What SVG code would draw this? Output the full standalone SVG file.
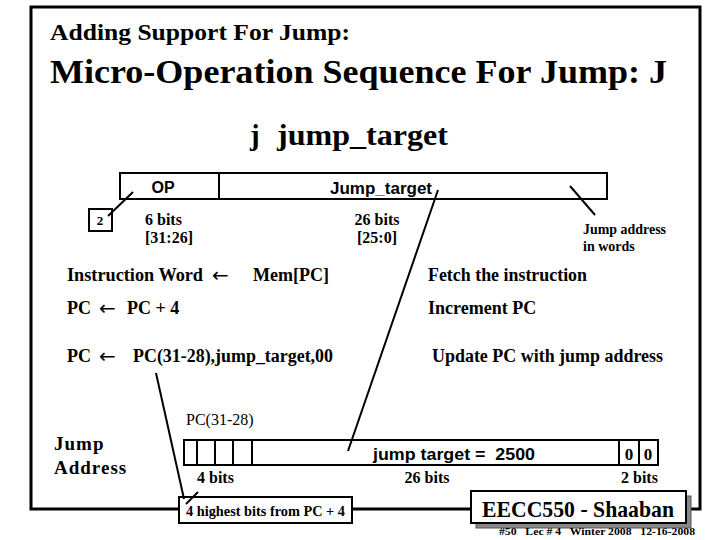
<svg xmlns="http://www.w3.org/2000/svg" width="720" height="540" viewBox="0 0 720 540">
<style>
.ser{font-family:"Liberation Serif","Times New Roman",serif;font-weight:bold;fill:#000}
.san{font-family:"Liberation Sans",Arial,sans-serif;font-weight:bold;fill:#000}
.arr{font-family:"DejaVu Sans",sans-serif;font-size:20px;fill:#000}
.box{fill:#fff;stroke:#000;stroke-width:2}
.ln{stroke:#000;stroke-width:2;fill:none}
.frame{stroke:#000;stroke-width:3;fill:none}
</style>
<rect width="720" height="540" fill="#fff"/>
<g id="frame">
<path class="frame" d="M179,509 H31 V7 H700 V509 H690"/>
<path class="frame" d="M352,509 H472"/>
</g>
<g id="titles">
<text class="ser" x="50" y="40" font-size="23" textLength="300" lengthAdjust="spacingAndGlyphs">Adding Support For Jump:</text>
<text class="ser" x="50" y="83" font-size="33" textLength="617" lengthAdjust="spacingAndGlyphs">Micro-Operation Sequence For Jump: J</text>
<text class="ser" x="250" y="145" font-size="29">j</text>
<text class="ser" x="277" y="145" font-size="29" textLength="171" lengthAdjust="spacingAndGlyphs">jump_target</text>
</g>
<g id="instruction-format">
<rect class="box" x="120" y="173" width="487" height="26"/>
<line class="ln" x1="219" y1="173" x2="219" y2="199"/>
<text class="san" x="163" y="193" font-size="16" text-anchor="middle">OP</text>
<text class="san" x="381" y="194" font-size="17" text-anchor="middle">Jump_target</text>
<text class="ser" x="145" y="225" font-size="16">6 bits</text>
<text class="ser" x="145" y="243" font-size="16">[31:26]</text>
<text class="ser" x="377" y="225" font-size="16" text-anchor="middle">26 bits</text>
<text class="ser" x="377" y="243" font-size="16" text-anchor="middle">[25:0]</text>
</g>
<g id="note-2">
<rect class="box" x="89" y="209" width="23" height="22"/>
<text class="ser" x="100" y="225" font-size="13" text-anchor="middle">2</text>
</g>
<g id="note-words">
<text class="ser" x="583" y="234" font-size="14" textLength="83" lengthAdjust="spacingAndGlyphs">Jump address</text>
<text class="ser" x="583" y="251" font-size="14">in words</text>
</g>
<g id="micro-ops">
<text class="ser" x="67" y="281" font-size="18" textLength="136" lengthAdjust="spacingAndGlyphs">Instruction Word</text>
<text class="arr" x="212" y="282">←</text>
<text class="ser" x="253" y="281" font-size="18">Mem[PC]</text>
<text class="ser" x="428" y="281" font-size="18" textLength="159" lengthAdjust="spacingAndGlyphs">Fetch the instruction</text>
<text class="ser" x="67" y="314" font-size="18">PC</text>
<text class="arr" x="99" y="315">←</text>
<text class="ser" x="127" y="314" font-size="18">PC + 4</text>
<text class="ser" x="428" y="314" font-size="18">Increment PC</text>
<text class="ser" x="67" y="362" font-size="18">PC</text>
<text class="arr" x="99" y="363">←</text>
<text class="ser" x="133" y="362" font-size="18" textLength="200" lengthAdjust="spacingAndGlyphs">PC(31-28),jump_target,00</text>
<text class="ser" x="432" y="362" font-size="18" textLength="231" lengthAdjust="spacingAndGlyphs">Update PC with jump address</text>
</g>
<g id="jump-address">
<text class="ser" x="54" y="450" font-size="19" letter-spacing="1">Jump</text>
<text class="ser" x="54" y="474" font-size="19" letter-spacing="1">Address</text>
<text class="ser" x="186" y="425" font-size="16" style="font-weight:normal">PC(31-28)</text>
<rect class="box" x="184" y="440" width="474" height="25"/>
<line class="ln" x1="197" y1="440" x2="197" y2="465"/>
<line class="ln" x1="215" y1="440" x2="215" y2="465"/>
<line class="ln" x1="233" y1="440" x2="233" y2="465"/>
<line class="ln" x1="252" y1="440" x2="252" y2="465"/>
<line class="ln" x1="619" y1="440" x2="619" y2="465"/>
<line class="ln" x1="639" y1="440" x2="639" y2="465"/>
<text class="san" x="373" y="460" font-size="17" xml:space="preserve" textLength="162" lengthAdjust="spacingAndGlyphs">jump target =  2500</text>
<text class="ser" x="629" y="460" font-size="17" text-anchor="middle">0</text>
<text class="ser" x="648" y="460" font-size="17" text-anchor="middle">0</text>
<text class="ser" x="197" y="483" font-size="16">4 bits</text>
<text class="ser" x="427" y="483" font-size="16" text-anchor="middle">26 bits</text>
<text class="ser" x="621" y="483" font-size="16">2 bits</text>
</g>
<g id="note-highest">
<rect class="box" x="179" y="497" width="173" height="26"/>
<text class="ser" x="186" y="516" font-size="14" textLength="159" lengthAdjust="spacingAndGlyphs">4 highest bits from PC + 4</text>
</g>
<g id="footer">
<rect x="476" y="496" width="215" height="32" fill="#888" stroke="#555" stroke-width="1"/>
<rect class="box" x="471" y="491" width="215" height="32"/>
<text class="ser" x="578" y="517" font-size="23" text-anchor="middle" textLength="192" lengthAdjust="spacingAndGlyphs">EECC550 - Shaaban</text>
<text class="ser" x="499" y="535" font-size="10" xml:space="preserve" textLength="196" lengthAdjust="spacingAndGlyphs">#50   Lec # 4   Winter 2008   12-16-2008</text>
</g>
<g id="connectors">
<line class="ln" x1="108" y1="216" x2="133" y2="192"/>
<line class="ln" x1="570" y1="186" x2="595" y2="215"/>
<line class="ln" x1="438" y1="190" x2="348" y2="451"/>
<line class="ln" x1="156" y1="373" x2="184" y2="499"/>
<line class="ln" x1="186" y1="504" x2="198" y2="492"/>
</g>
</svg>
